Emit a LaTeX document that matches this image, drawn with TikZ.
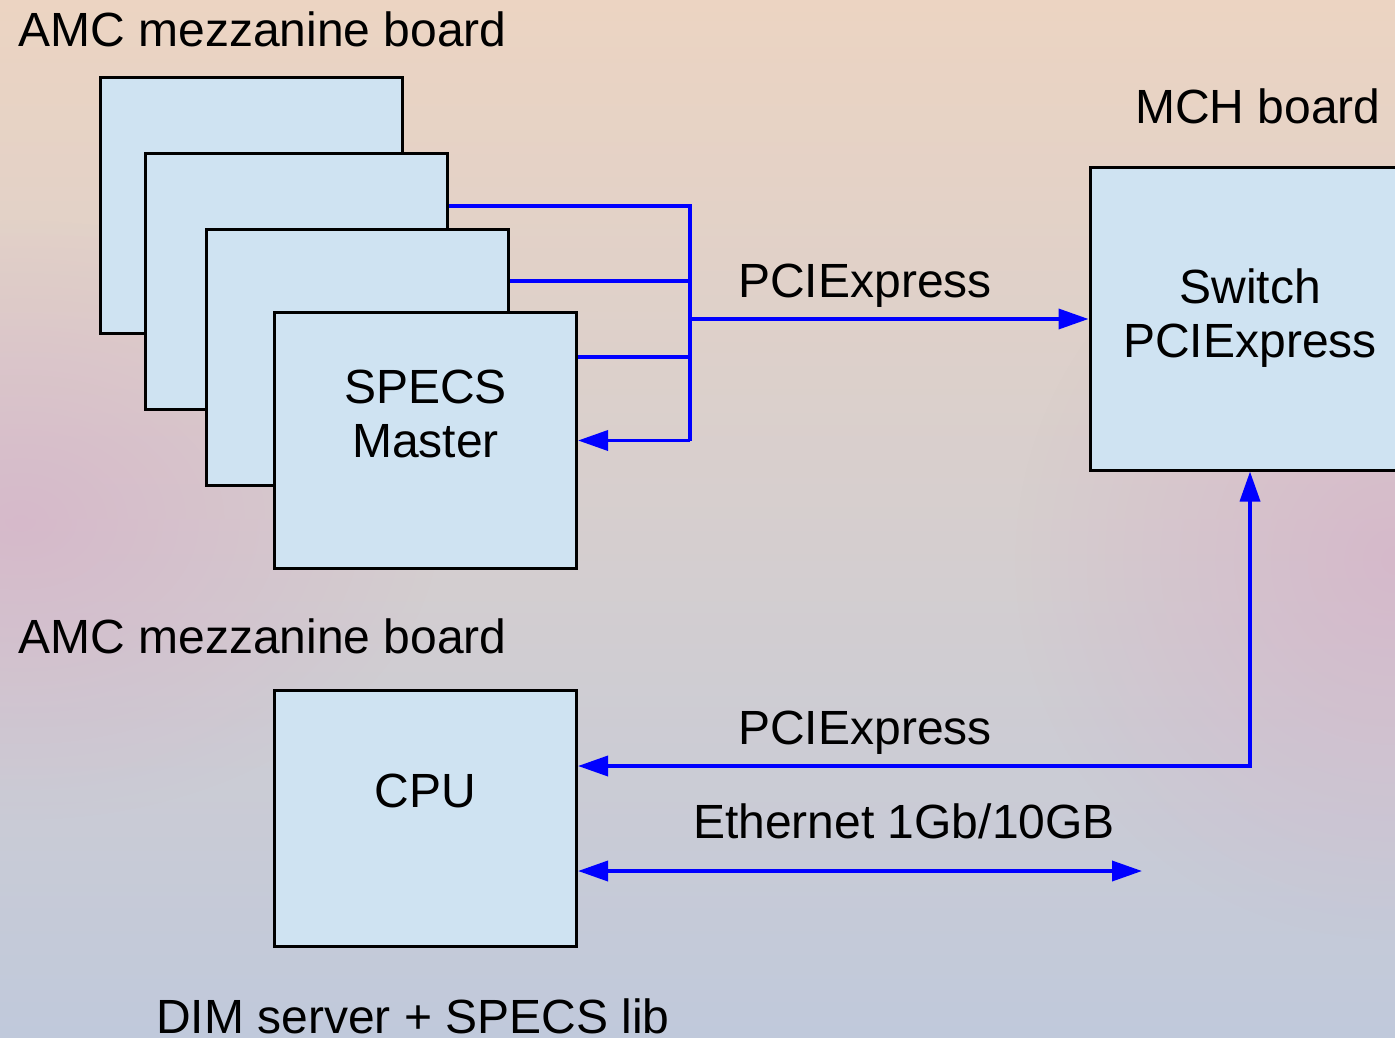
\documentclass[tikz,border=0pt]{standalone}
\usepackage{fontspec}
\setmainfont{Liberation Sans}
\usetikzlibrary{arrows.meta, fadings}
\definecolor{boardfill}{RGB}{207,227,242}
\definecolor{linkblue}{RGB}{0,0,255}
\definecolor{bgtop}{RGB}{236,212,194}
\definecolor{bgmid}{RGB}{214,192,192}
\definecolor{bgbot}{RGB}{192,201,219}
\definecolor{bgpink}{RGB}{214,174,200}
\tikzfading[name=softblob, inner color=transparent!35, outer color=transparent!100]

\begin{document}
\begin{tikzpicture}[x=0.5pt, y=-0.5pt, >={Triangle[length=15pt,width=10pt]},
    board/.style={draw=black, line width=1.5pt, fill=boardfill, minimum width=151pt, minimum height=128pt, align=center, inner sep=0pt, font=\fontsize{24}{27}\selectfont},
    caption/.style={font=\fontsize{24}{27}\selectfont, inner sep=0pt},
    link/.style={draw=linkblue, line width=1.8pt}]

    % background
    \clip (0,0) rectangle (1395,1037);
    \useasboundingbox (0,0) rectangle (1395,1037);
    \shade[top color=bgtop, middle color=bgmid, bottom color=bgbot] (0,0) rectangle (1395,1037);
    \fill[bgpink, path fading=softblob] (20,520) ellipse (420 and 300);
    \fill[bgpink, path fading=softblob] (1395,560) ellipse (380 and 380);

    % boards
    \node[board] (a1) at (251.5,205.5) {};
    \node[board] (a2) at (296.5,281.5) {};
    \node[board] (a3) at (357.5,357.5) {};
    \node[board] (a4) at (425.5,440.5) {SPECS\\Master\\\mbox{}};
    \node[board] (cpu) at (425.5,818) {CPU\\\mbox{}};
    \node[board, minimum width=160pt, minimum height=151pt, text depth=6pt] (sw) at (1250,319) {Switch\\PCIExpress};

    % captions
    \node[caption, anchor=base west] (amctop) at (18,47) {AMC mezzanine board};
    \node[caption, anchor=base east] (mch) at (1381,124) {MCH board};
    \node[caption, anchor=base west] (amcbot) at (18,653) {AMC mezzanine board};
    \node[caption, anchor=base] (pcitop) at (865,298) {PCIExpress};
    \node[caption, anchor=base] (pcibot) at (865,744) {PCIExpress};
    \node[caption, anchor=base] (eth) at (904,838) {Ethernet 1Gb/10GB};
    \node[caption, anchor=base] (dim) at (413,1033) {DIM server + SPECS lib};

    % links
    \coordinate (j2) at (690,206);
    \coordinate (j3) at (690,281);
    \coordinate (j4) at (690,357);
    \coordinate (jm) at (690,319);
    \coordinate (j5) at (690,440.5);
    \coordinate (k) at (1250,766);
    \coordinate (ethend) at (1142,871);

    \draw[link] (a2.east |- j2) -- (j2) -- (j5);
    \draw[link] (a3.east |- j3) -- (j3);
    \draw[link] (a4.east |- j4) -- (j4);
    \draw[link, ->] (j5) -- (a4.east);
    \draw[link, ->] (jm) -- (sw.west);
    \draw[link, <->] (cpu.east |- k) -- (k) -- (sw.south);
    \draw[link, <->] (cpu.east |- ethend) -- (ethend);
\end{tikzpicture}
\end{document}
